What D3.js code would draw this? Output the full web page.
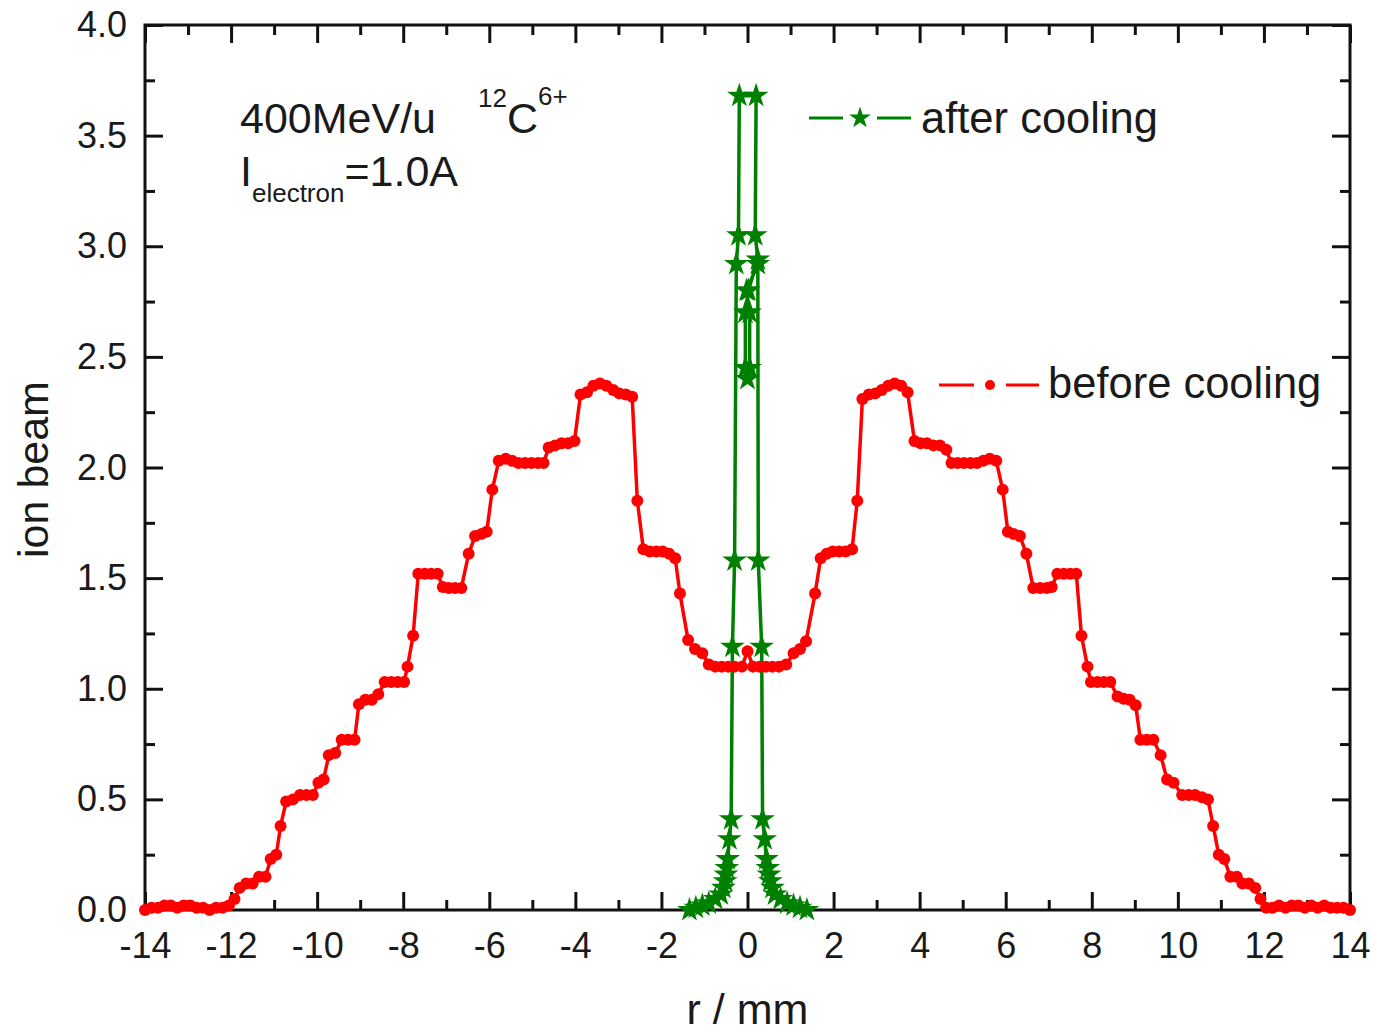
<!DOCTYPE html>
<meta charset="utf-8">
<style>
  body { margin: 0; background: #fff; }
  text { font-family: "Liberation Sans", Arial, sans-serif; fill: #1a1a1a; }
</style>
<script src="https://d3js.org/d3.v7.min.js"></script>
<div id="chart"></div>
<script>
  // ---- data ----
  var xTicks = [-14, -12, -10, -8, -6, -4, -2, 0, 2, 4, 6, 8, 10, 12, 14];
  var xMinor = [-13, -11, -9, -7, -5, -3, -1, 1, 3, 5, 7, 9, 11, 13];
  var yTicks = [0, 0.5, 1.0, 1.5, 2.0, 2.5, 3.0, 3.5, 4.0];
  var yMinor = [0.25, 0.75, 1.25, 1.75, 2.25, 2.75, 3.25, 3.75];

  // before cooling (red, dots)
  var beforeR = [
    -14.0, -13.85, -13.7, -13.55, -13.4, -13.25, -13.1, -12.95, -12.8, -12.65, -12.5, -12.35, -12.2, -12.05,
    -11.92, -11.8, -11.65, -11.5, -11.35, -11.2, -11.08, -10.95, -10.85, -10.72, -10.56, -10.4, -10.25, -10.1,
    -9.97, -9.85, -9.73, -9.58, -9.43, -9.28, -9.13, -9.03, -8.88, -8.73, -8.58, -8.43, -8.28, -8.13, -7.98,
    -7.9, -7.77, -7.65, -7.5, -7.35, -7.2, -7.08, -6.94, -6.8, -6.65, -6.48, -6.33, -6.18, -6.06, -5.93,
    -5.78, -5.62, -5.47, -5.32, -5.17, -5.02, -4.87, -4.74, -4.62, -4.47, -4.32, -4.17, -4.02, -3.88, -3.73,
    -3.58, -3.43, -3.28, -3.12, -2.98, -2.83, -2.68, -2.56, -2.42, -2.27, -2.12, -1.97, -1.82, -1.68, -1.57,
    -1.38, -1.22, -1.05, -0.9, -0.75, -0.6, -0.45, -0.3, -0.13, 0.0,
    0.13, 0.28, 0.43, 0.58, 0.73, 0.9, 1.07, 1.22, 1.36, 1.57, 1.70, 1.84, 1.98, 2.13, 2.28, 2.43, 2.55,
    2.67, 2.82, 2.97, 3.12, 3.27, 3.42, 3.57, 3.72, 3.88, 4.02, 4.17, 4.32, 4.47, 4.62, 4.74, 4.88, 5.03,
    5.18, 5.33, 5.48, 5.63, 5.78, 5.93, 6.05, 6.18, 6.33, 6.48, 6.64, 6.8, 6.95, 7.07, 7.2, 7.35, 7.5, 7.64,
    7.76, 7.9, 7.98, 8.13, 8.28, 8.43, 8.6, 8.74, 8.88, 9.02, 9.13, 9.28, 9.43, 9.6, 9.75, 9.9, 10.1, 10.25,
    10.4, 10.56, 10.7, 10.82, 10.95, 11.08, 11.22, 11.37, 11.5, 11.65, 11.8, 11.92,
    12.05, 12.2, 12.35, 12.5, 12.65, 12.8, 12.95, 13.1, 13.25, 13.4, 13.55, 13.7, 13.85, 14.0
  ];
  var beforeI = [
    0.00, 0.01, 0.01, 0.02, 0.02, 0.01, 0.02, 0.02, 0.01, 0.01, 0.00, 0.01, 0.01, 0.02,
    0.05, 0.10, 0.12, 0.12, 0.15, 0.15, 0.23, 0.25, 0.38, 0.49, 0.50, 0.52, 0.52, 0.52,
    0.575, 0.59, 0.70, 0.71, 0.77, 0.77, 0.77, 0.93, 0.95, 0.95, 0.975, 1.03, 1.03, 1.03, 1.03,
    1.10, 1.24, 1.52, 1.52, 1.52, 1.52, 1.46, 1.455, 1.455, 1.455, 1.61, 1.69, 1.70, 1.71, 1.90,
    2.03, 2.04, 2.03, 2.02, 2.02, 2.02, 2.02, 2.02, 2.09, 2.10, 2.11, 2.11, 2.12, 2.33, 2.34,
    2.37, 2.38, 2.37, 2.35, 2.335, 2.33, 2.32, 1.85, 1.63, 1.62, 1.62, 1.62, 1.61, 1.59, 1.43,
    1.22, 1.18, 1.16, 1.11, 1.10, 1.10, 1.10, 1.10, 1.10, 1.17,
    1.10, 1.10, 1.10, 1.10, 1.10, 1.11, 1.16, 1.18, 1.215, 1.43, 1.59, 1.61, 1.62, 1.62, 1.62, 1.63, 1.85,
    2.31, 2.33, 2.335, 2.35, 2.37, 2.38, 2.37, 2.34, 2.12, 2.11, 2.11, 2.10, 2.10, 2.08, 2.02, 2.02, 2.02,
    2.02, 2.02, 2.03, 2.04, 2.03, 1.90, 1.71, 1.70, 1.69, 1.61, 1.455, 1.455, 1.455, 1.46, 1.52, 1.52, 1.52, 1.52,
    1.24, 1.10, 1.03, 1.03, 1.03, 1.03, 0.965, 0.955, 0.95, 0.925, 0.77, 0.77, 0.77, 0.70, 0.59, 0.575, 0.52, 0.52,
    0.52, 0.51, 0.50, 0.38, 0.25, 0.23, 0.15, 0.15, 0.12, 0.12, 0.10, 0.05,
    0.01, 0.01, 0.02, 0.01, 0.02, 0.02, 0.01, 0.02, 0.01, 0.02, 0.01, 0.01, 0.01, 0.00
  ];

  // after cooling (green, stars) in plotting order
  var afterR = [
    -1.35, -1.20, -1.05, -0.90, -0.75, -0.62, -0.56, -0.52, -0.50, -0.48, -0.46, -0.42, -0.38,
    -0.35, -0.30, -0.26, -0.21, -0.19, 0.20, 0.18, 0.24, 0.02, -0.05, -0.05, 0.00, 0.05, 0.05, -0.02,
    0.24, 0.25, 0.33, 0.35, 0.40, 0.44, 0.47, 0.50, 0.53, 0.58, 0.64, 0.77, 0.92, 1.07, 1.22, 1.38
  ];
  var afterI = [
    0.00, 0.01, 0.02, 0.03, 0.05, 0.07, 0.10, 0.13, 0.16, 0.19, 0.23, 0.32, 0.41,
    1.19, 1.58, 2.92, 3.05, 3.68, 3.68, 3.05, 2.94, 2.80, 2.70, 2.45, 2.40, 2.45, 2.70, 2.80,
    2.92, 1.58, 1.19, 0.41, 0.32, 0.23, 0.19, 0.16, 0.13, 0.10, 0.07, 0.05, 0.03, 0.02, 0.01, 0.00
  ];

  var beforeData = beforeR.map(function (r, i) { return { r: r, v: beforeI[i] }; });
  var afterData = afterR.map(function (r, i) { return { r: r, v: afterI[i] }; });

  var W = 1375, H = 1035;
  var margin = { top: 25, right: 25, bottom: 125, left: 145 };
  var RED = "#ff0000", GREEN = "#008000";

  var svg = d3.select("#chart").append("svg")
    .attr("width", W).attr("height", H);

  var x = d3.scaleLinear().domain([-14, 14]).range([margin.left, W - margin.right]);
  var y = d3.scaleLinear().domain([0, 4]).range([H - margin.bottom, margin.top]);

  // axes, ticks pointing inwards on all four sides
  function styleAxis(g) {
    g.select(".domain").remove();
    g.selectAll(".tick line").attr("stroke", "#111").attr("stroke-width", 3);
    g.selectAll("text").style("font-size", "36px").attr("fill", "#1a1a1a");
  }
  var fmt = d3.format(".1f");

  svg.append("g").attr("transform", "translate(0," + y(0) + ")")
    .call(d3.axisBottom(x).tickValues(xTicks).tickFormat(function (d) { return String(d); })
      .tickSizeInner(-18).tickSizeOuter(0).tickPadding(22))
    .call(styleAxis);
  svg.append("g").attr("transform", "translate(0," + y(0) + ")")
    .call(d3.axisBottom(x).tickValues(xMinor).tickFormat("").tickSizeInner(-10).tickSizeOuter(0))
    .call(styleAxis);
  svg.append("g").attr("transform", "translate(0," + y(4) + ")")
    .call(d3.axisTop(x).tickValues(xTicks).tickFormat("").tickSizeInner(-18).tickSizeOuter(0))
    .call(styleAxis);
  svg.append("g").attr("transform", "translate(0," + y(4) + ")")
    .call(d3.axisTop(x).tickValues(xMinor).tickFormat("").tickSizeInner(-10).tickSizeOuter(0))
    .call(styleAxis);

  svg.append("g").attr("transform", "translate(" + x(-14) + ",0)")
    .call(d3.axisLeft(y).tickValues(yTicks).tickFormat(fmt)
      .tickSizeInner(-18).tickSizeOuter(0).tickPadding(18))
    .call(styleAxis);
  svg.append("g").attr("transform", "translate(" + x(-14) + ",0)")
    .call(d3.axisLeft(y).tickValues(yMinor).tickFormat("").tickSizeInner(-10).tickSizeOuter(0))
    .call(styleAxis);
  svg.append("g").attr("transform", "translate(" + x(14) + ",0)")
    .call(d3.axisRight(y).tickValues(yTicks).tickFormat("").tickSizeInner(-18).tickSizeOuter(0))
    .call(styleAxis);
  svg.append("g").attr("transform", "translate(" + x(14) + ",0)")
    .call(d3.axisRight(y).tickValues(yMinor).tickFormat("").tickSizeInner(-10).tickSizeOuter(0))
    .call(styleAxis);

  // frame
  svg.append("rect")
    .attr("x", x(-14)).attr("y", y(4))
    .attr("width", x(14) - x(-14)).attr("height", y(0) - y(4))
    .attr("fill", "none").attr("stroke", "#111").attr("stroke-width", 3);

  // after cooling
  var line = d3.line().x(function (d) { return x(d.r); }).y(function (d) { return y(d.v); });
  var star = d3.symbol().type(d3.symbolStar).size(190);

  svg.append("path").datum(afterData)
    .attr("d", line).attr("fill", "none")
    .attr("stroke", GREEN).attr("stroke-width", 3.5).attr("stroke-linejoin", "round");
  svg.append("g").selectAll("path")
    .data(afterData).enter().append("path")
    .attr("d", star)
    .attr("transform", function (d) { return "translate(" + x(d.r) + "," + y(d.v) + ")"; })
    .attr("fill", GREEN);

  // before cooling
  svg.append("path").datum(beforeData)
    .attr("d", line).attr("fill", "none")
    .attr("stroke", RED).attr("stroke-width", 3.5).attr("stroke-linejoin", "round");
  svg.append("g").selectAll("circle")
    .data(beforeData).enter().append("circle")
    .attr("cx", function (d) { return x(d.r); })
    .attr("cy", function (d) { return y(d.v); })
    .attr("r", 6)
    .attr("fill", RED);

  // legend
  var lg = svg.append("g");
  lg.append("line").attr("x1", 809).attr("x2", 843).attr("y1", 118).attr("y2", 118)
    .attr("stroke", GREEN).attr("stroke-width", 3);
  lg.append("line").attr("x1", 877).attr("x2", 911).attr("y1", 118).attr("y2", 118)
    .attr("stroke", GREEN).attr("stroke-width", 3);
  lg.append("path").attr("d", d3.symbol().type(d3.symbolStar).size(150))
    .attr("transform", "translate(860,118)").attr("fill", GREEN);
  lg.append("text").attr("x", 921).attr("y", 133).style("font-size", "43.5px").text("after cooling");

  lg.append("line").attr("x1", 939).attr("x2", 974).attr("y1", 385).attr("y2", 385)
    .attr("stroke", RED).attr("stroke-width", 3);
  lg.append("line").attr("x1", 1006).attr("x2", 1039).attr("y1", 385).attr("y2", 385)
    .attr("stroke", RED).attr("stroke-width", 3);
  lg.append("circle").attr("cx", 990).attr("cy", 385).attr("r", 5).attr("fill", RED);
  lg.append("text").attr("x", 1048).attr("y", 398).style("font-size", "43.5px").text("before cooling");

  // annotation
  svg.append("text").attr("x", 240).attr("y", 133).style("font-size", "43px").text("400MeV/u");
  var ion = svg.append("text").attr("x", 478).attr("y", 133).style("font-size", "43px");
  ion.append("tspan").attr("dy", -26).style("font-size", "26px").text("12");
  ion.append("tspan").attr("dy", 26).text("C");
  ion.append("tspan").attr("dy", -28).style("font-size", "26px").text("6+");

  var cur = svg.append("text").attr("x", 240).attr("y", 186).style("font-size", "43px");
  cur.append("tspan").text("I");
  cur.append("tspan").attr("dy", 16).style("font-size", "26px").text("electron");
  cur.append("tspan").attr("dy", -16).text("=1.0A");

  // axis titles
  svg.append("text")
    .attr("transform", "translate(48," + ((y(0) + y(4)) / 2 + 2) + ") rotate(-90)")
    .attr("text-anchor", "middle").style("font-size", "43px").text("ion beam");
  svg.append("text")
    .attr("x", (x(-14) + x(14)) / 2).attr("y", 1024)
    .attr("text-anchor", "middle").style("font-size", "43px").text("r / mm");
</script>
